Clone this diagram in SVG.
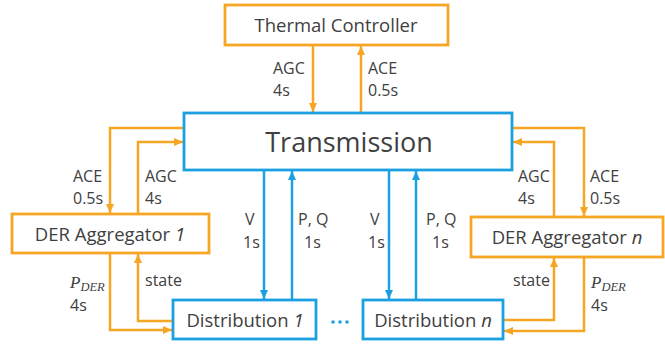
<svg xmlns="http://www.w3.org/2000/svg" width="665" height="344" viewBox="0 0 665 344">
<style>
.bo{fill:#fff;stroke:#F5A623;stroke-width:2.8}
.bb{fill:#fff;stroke:#1BA1E2;stroke-width:2.8}
.co{fill:none;stroke:#F5A623;stroke-width:2.5}
.cb{fill:none;stroke:#1BA1E2;stroke-width:2.5}
text{font-family:"Open Sans","DejaVu Sans",sans-serif;fill:#404040}
.lb{font-size:16px}
.nb{font-size:18.5px;text-anchor:middle}
.it{font-style:italic}
.m{font-family:"Liberation Serif","DejaVu Serif",serif;font-style:italic}
</style>
<defs>
<marker id="ao" markerWidth="10" markerHeight="10" refX="9" refY="5" orient="auto" markerUnits="userSpaceOnUse"><path d="M0,1 L9,5 L0,9 z" fill="#F5A623"/></marker>
<marker id="ab" markerWidth="10" markerHeight="10" refX="9" refY="5" orient="auto" markerUnits="userSpaceOnUse"><path d="M0,1 L9,5 L0,9 z" fill="#1BA1E2"/></marker>
</defs>
<g id="connectors">
<path class="co" d="M313,45 V112" marker-end="url(#ao)"/>
<path class="co" d="M361,113 V46" marker-end="url(#ao)"/>
<path class="co" d="M184,128 H110 V213" marker-end="url(#ao)"/>
<path class="co" d="M138,214 V142 H183" marker-end="url(#ao)"/>
<path class="co" d="M110,253 V330 H172" marker-end="url(#ao)"/>
<path class="co" d="M173,321 H138 V254" marker-end="url(#ao)"/>
<path class="co" d="M512,128 H584 V216" marker-end="url(#ao)"/>
<path class="co" d="M554,217 V142 H513" marker-end="url(#ao)"/>
<path class="co" d="M503,320 H554 V258" marker-end="url(#ao)"/>
<path class="co" d="M584,257 V331 H504" marker-end="url(#ao)"/>
<path class="cb" d="M264,170 V299" marker-end="url(#ab)"/>
<path class="cb" d="M292,300 V171" marker-end="url(#ab)"/>
<path class="cb" d="M389,170 V299" marker-end="url(#ab)"/>
<path class="cb" d="M416,300 V171" marker-end="url(#ab)"/>
<circle cx="333" cy="322" r="1.8" fill="#1BA1E2"/>
<circle cx="340" cy="322" r="1.8" fill="#1BA1E2"/>
<circle cx="347" cy="322" r="1.8" fill="#1BA1E2"/>
<text class="lb" x="273" y="74">AGC</text>
<text class="lb" x="273" y="96">4s</text>
<text class="lb" x="368" y="74">ACE</text>
<text class="lb" x="368" y="96">0.5s</text>
<text class="lb" x="73" y="182">ACE</text>
<text class="lb" x="73" y="204">0.5s</text>
<text class="lb" x="145" y="182">AGC</text>
<text class="lb" x="145" y="204">4s</text>
<text class="lb" x="518" y="182">AGC</text>
<text class="lb" x="518" y="204">4s</text>
<text class="lb" x="590" y="182">ACE</text>
<text class="lb" x="590" y="204">0.5s</text>
<text class="lb" x="245" y="225">V</text>
<text class="lb" x="243" y="248">1s</text>
<text class="lb" x="298" y="225">P, Q</text>
<text class="lb" x="304" y="248">1s</text>
<text class="lb" x="370" y="225">V</text>
<text class="lb" x="368" y="248">1s</text>
<text class="lb" x="426" y="225">P, Q</text>
<text class="lb" x="432" y="248">1s</text>
<text class="lb" x="145" y="286">state</text>
<text class="lb" x="513" y="286">state</text>
<text x="70" y="288"><tspan class="m" font-size="17">P</tspan><tspan class="m" font-size="12.5" dy="3">DER</tspan></text>
<text class="lb" x="70" y="311">4s</text>
<text x="591" y="288"><tspan class="m" font-size="17">P</tspan><tspan class="m" font-size="12.5" dy="3">DER</tspan></text>
<text class="lb" x="591" y="311">4s</text>
</g>
<g id="thermal">
<rect class="bo" x="225" y="5" width="223" height="40"/>
<text class="nb" x="336" y="32">Thermal Controller</text>
</g>
<g id="transmission">
<rect class="bb" x="184" y="113" width="328" height="57"/>
<text x="349" y="152" font-size="27" text-anchor="middle">Transmission</text>
</g>
<g id="der1">
<rect class="bo" x="12" y="214" width="197" height="39"/>
<text class="nb" x="110" y="241">DER Aggregator <tspan class="it">1</tspan></text>
</g>
<g id="dern">
<rect class="bo" x="471" y="217" width="192" height="40"/>
<text class="nb" x="567" y="244">DER Aggregator <tspan class="it">n</tspan></text>
</g>
<g id="dist1">
<rect class="bb" x="173" y="300" width="143" height="39"/>
<text class="nb" x="245" y="327">Distribution <tspan class="it">1</tspan></text>
</g>
<g id="distn">
<rect class="bb" x="363" y="300" width="140" height="39"/>
<text class="nb" x="433" y="327">Distribution <tspan class="it">n</tspan></text>
</g>
</svg>
